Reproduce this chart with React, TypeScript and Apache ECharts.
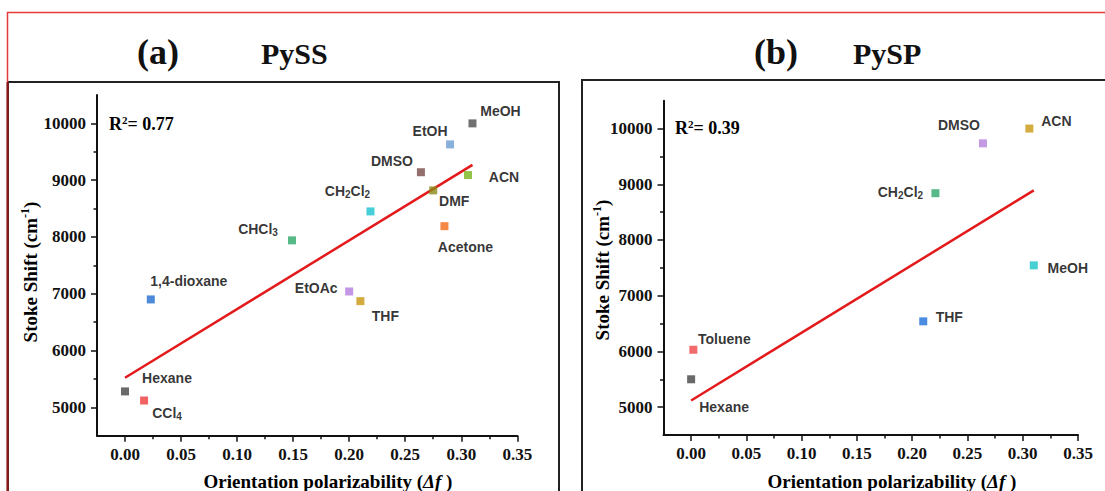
import React, { useEffect, useRef } from "react";
import * as echarts from "echarts";

// Tick positions shared by both panels
const xMajor = [0, 0.05, 0.1, 0.15, 0.2, 0.25, 0.3, 0.35];
const xMinor = [0.025, 0.075, 0.125, 0.175, 0.225, 0.275, 0.325];
const yMajor = [5000, 6000, 7000, 8000, 9000, 10000];
const yMinor = [5500, 6500, 7500, 8500, 9500];

// Panel (a): PySS
const solventsA = ["MeOH", "EtOH", "DMSO", "ACN", "DMF", "CH2Cl2", "Acetone", "CHCl3", "1,4-dioxane", "Hexane", "CCl4", "EtOAc", "THF"];
const deltaFA = [0.31, 0.29, 0.264, 0.306, 0.275, 0.219, 0.285, 0.149, 0.023, 0.0, 0.017, 0.2, 0.21];
const stokesA = [10000, 9630, 9140, 9090, 8820, 8450, 8190, 7940, 6900, 5280, 5120, 7040, 6870];
const fitAX = [0, 0.31];
const fitAY = [5520, 9270];

// Panel (b): PySP
const solventsB = ["DMSO", "ACN", "CH2Cl2", "MeOH", "THF", "Toluene", "Hexane"];
const deltaFB = [0.264, 0.306, 0.221, 0.31, 0.21, 0.002, 0.0];
const stokesB = [9735, 10000, 8840, 7545, 6540, 6030, 5500];
const fitBX = [0, 0.31];
const fitBY = [5120, 8890];

// Marker colours
const colorsA = ["#4d4d4d", "#6b9bd2", "#7a4a4a", "#78b41c", "#8c8a16", "#19c3cf", "#f46a16", "#2da66a", "#1f6dd0", "#454545", "#ef3b3b", "#b47ce0", "#c9970e"];
const colorsB = ["#b57fe0", "#c9960f", "#2ea86a", "#19c3c6", "#1f6fd8", "#ef4545", "#444444"];

// Label placement (pixel offset of label centre from marker centre)
const labelOffsetA = [[28, -12], [-20, -13], [-29, -11], [36, 2], [21, 11], [-23, -20], [21, 21], [-34, -11], [38, -18], [42, -13], [23, 13], [-33, -3], [25, 15]];
const labelOffsetB = [[-24, -18], [27, -8], [-35, -1], [34, 3], [26, -4], [31, -11], [33, 28]];

const serif = "'Times New Roman', 'Liberation Serif', serif";
const sans = "Arial, 'Liberation Sans', Helvetica, sans-serif";

// Turn chemical formulas into rich text with subscript digits
function formula(name: string): string {
  if (name.includes(",") || !/[A-Za-z]\d/.test(name)) return `{n|${name}}`;
  return name
    .split(/(\d+)/)
    .filter((s) => s.length > 0)
    .map((s) => (/^\d+$/.test(s) ? `{s|${s}}` : `{n|${s}}`))
    .join("");
}

const labelRich = {
  n: { fontSize: 14, fontWeight: "bold", fontFamily: sans, color: "#000", lineHeight: 16, verticalAlign: "middle", textBorderWidth: 0 },
  s: { fontSize: 10, fontWeight: "bold", fontFamily: sans, color: "#000", lineHeight: 10, padding: [8, 0, 0, 0], verticalAlign: "bottom", textBorderWidth: 0 },
};

function scatterData(xs: number[], ys: number[], names: string[], colors: string[], offsets: number[][]) {
  return xs.map((x, i) => ({
    value: [x, ys[i]],
    name: names[i],
    itemStyle: { color: colors[i] },
    label: {
      show: true,
      position: "inside",
      offset: offsets[i],
      align: "center",
      verticalAlign: "middle",
      color: "#000",
      textBorderWidth: 0,
      textBorderColor: "transparent",
      formatter: formula(names[i]),
      rich: labelRich,
    },
  }));
}

const tickLabel = {
  fontSize: 17,
  fontWeight: "bold",
  fontFamily: serif,
  color: "#111",
};

function axesFor(grid: number) {
  const x = [
    {
      type: "value",
      gridIndex: grid,
      position: "bottom",
      min: -0.025,
      max: 0.35,
      axisLine: { show: true, onZero: false, lineStyle: { color: "#111", width: 2 } },
      axisTick: { show: true, length: 6, customValues: xMajor, lineStyle: { color: "#111", width: 1.5 } },
      axisLabel: { ...tickLabel, margin: 10, customValues: xMajor, formatter: (v: number) => v.toFixed(2) },
      splitLine: { show: false },
    },
    {
      type: "value",
      gridIndex: grid,
      position: "bottom",
      min: -0.025,
      max: 0.35,
      axisLine: { show: false, onZero: false },
      axisTick: { show: true, length: 3.5, customValues: xMinor, lineStyle: { color: "#111", width: 1.5 } },
      axisLabel: { show: false },
      splitLine: { show: false },
    },
  ];
  const y = [
    {
      type: "value",
      gridIndex: grid,
      position: "left",
      min: 4500,
      max: 10500,
      axisLine: { show: true, onZero: false, lineStyle: { color: "#111", width: 2 } },
      axisTick: { show: true, length: 6, customValues: yMajor, lineStyle: { color: "#111", width: 1.5 } },
      axisLabel: { ...tickLabel, margin: 11, customValues: yMajor, formatter: (v: number) => String(v) },
      splitLine: { show: false },
    },
    {
      type: "value",
      gridIndex: grid,
      position: "left",
      min: 4500,
      max: 10500,
      axisLine: { show: false, onZero: false },
      axisTick: { show: true, length: 3.5, customValues: yMinor, lineStyle: { color: "#111", width: 1.5 } },
      axisLabel: { show: false },
      splitLine: { show: false },
    },
  ];
  return { x, y };
}

const titleRich = {
  t: { fontSize: 19, fontWeight: "bold", fontFamily: serif, color: "#111", lineHeight: 22 },
  i: { fontSize: 19, fontWeight: "bold", fontStyle: "italic", fontFamily: serif, color: "#111", lineHeight: 22 },
  sup: { fontSize: 12, fontWeight: "bold", fontFamily: serif, color: "#111", lineHeight: 12, padding: [0, 0, 10, 0], verticalAlign: "top" },
};

const r2Rich = {
  r: { fontSize: 18, fontWeight: "bold", fontFamily: serif, color: "#111", lineHeight: 20 },
  sup: { fontSize: 11, fontWeight: "bold", fontFamily: serif, color: "#111", lineHeight: 11, padding: [0, 0, 9, 0], verticalAlign: "top" },
};

export default function App() {
  const ref = useRef<HTMLDivElement>(null);

  useEffect(() => {
    if (!ref.current) return;
    const chart = echarts.init(ref.current, undefined, { renderer: "svg" });
    const a = axesFor(0);
    const b = axesFor(1);

    chart.setOption({
      animation: false,
      backgroundColor: "#ffffff",
      grid: [
        { left: 97, top: 95, width: 420.3, height: 340.7, containLabel: false },
        { left: 663.5, top: 100.7, width: 414.5, height: 334.3, containLabel: false },
      ],
      xAxis: [...a.x, ...b.x],
      yAxis: [...a.y, ...b.y],
      series: [
        {
          type: "line",
          xAxisIndex: 0,
          yAxisIndex: 0,
          data: fitAX.map((x, i) => [x, fitAY[i]]),
          symbol: "none",
          lineStyle: { color: "#e31a1c", width: 2.5 },
          z: 2,
        },
        {
          type: "scatter",
          xAxisIndex: 0,
          yAxisIndex: 0,
          symbol: "rect",
          symbolSize: 8,
          data: scatterData(deltaFA, stokesA, solventsA, colorsA, labelOffsetA),
          z: 3,
        },
        {
          type: "line",
          xAxisIndex: 2,
          yAxisIndex: 2,
          data: fitBX.map((x, i) => [x, fitBY[i]]),
          symbol: "none",
          lineStyle: { color: "#e31a1c", width: 2.5 },
          z: 2,
        },
        {
          type: "scatter",
          xAxisIndex: 2,
          yAxisIndex: 2,
          symbol: "rect",
          symbolSize: 8,
          data: scatterData(deltaFB, stokesB, solventsB, colorsB, labelOffsetB),
          z: 3,
        },
      ],
      graphic: [
        // panel frames
        { type: "rect", shape: { x: 8, y: 82, width: 551, height: 520 }, style: { fill: "none", stroke: "#222", lineWidth: 2 }, silent: true },
        { type: "rect", shape: { x: 582, y: 80, width: 600, height: 520 }, style: { fill: "none", stroke: "#222", lineWidth: 2 }, silent: true },
        { type: "polyline", shape: { points: [[1105, 12.5], [7.5, 12.5], [7.5, 491]] }, style: { fill: "none", stroke: "#e53a3a", lineWidth: 1.5 }, silent: true },
        { type: "line", shape: { x1: 7.5, y1: 82, x2: 7.5, y2: 491 }, style: { stroke: "#8a1a1a", lineWidth: 2 }, silent: true },
        // panel headings
        { type: "text", x: 137, y: 52, style: { text: "(a)", font: `bold 36px ${serif}`, fill: "#111", verticalAlign: "middle" } },
        { type: "text", x: 261, y: 53, style: { text: "PySS", font: `bold 30px ${serif}`, fill: "#111", verticalAlign: "middle" } },
        { type: "text", x: 754, y: 52, style: { text: "(b)", font: `bold 36px ${serif}`, fill: "#111", verticalAlign: "middle" } },
        { type: "text", x: 853, y: 53, style: { text: "PySP", font: `bold 30px ${serif}`, fill: "#111", verticalAlign: "middle" } },
        // fit quality
        { type: "text", x: 109, y: 124, style: { text: "{r|R}{sup|2}{r|= 0.77}", rich: r2Rich, verticalAlign: "middle" } },
        { type: "text", x: 675, y: 128, style: { text: "{r|R}{sup|2}{r|= 0.39}", rich: r2Rich, verticalAlign: "middle" } },
        // axis titles
        { type: "text", x: 328, y: 481, style: { text: "{t|Orientation polarizability (}{i|Δf}{t| )}", rich: titleRich, align: "center", verticalAlign: "middle" } },
        { type: "text", x: 892, y: 481, style: { text: "{t|Orientation polarizability (}{i|Δf}{t| )}", rich: titleRich, align: "center", verticalAlign: "middle" } },
        { type: "text", x: 30, y: 272, rotation: Math.PI / 2, style: { text: "{t|Stoke Shift (cm}{sup|-1}{t|)}", rich: titleRich, align: "center", verticalAlign: "middle" } },
        { type: "text", x: 602, y: 270, rotation: Math.PI / 2, style: { text: "{t|Stoke Shift (cm}{sup|-1}{t|)}", rich: titleRich, align: "center", verticalAlign: "middle" } },
      ],
    });

    return () => chart.dispose();
  }, []);

  return (
    <div
      ref={ref}
      style={{ position: "fixed", left: 0, top: 0, width: 1105, height: 491, background: "#fff" }}
    />
  );
}
